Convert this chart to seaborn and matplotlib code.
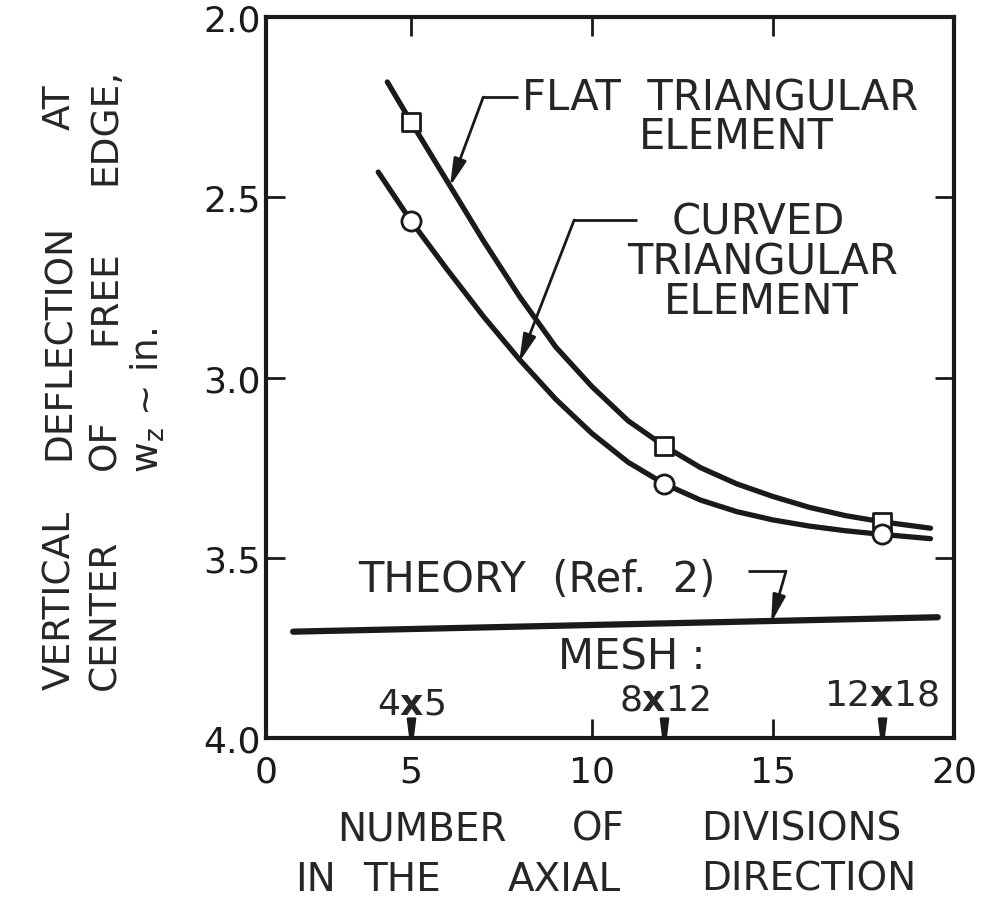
import matplotlib
matplotlib.use("Agg")
import matplotlib.pyplot as plt
import pandas as pd
import seaborn as sns


## DATA
# flat triangular element, sampled along the drawn curve
flat_x = [4.35, 5, 6, 7, 8, 9, 10, 11, 12, 13, 14, 15, 16, 17, 18, 19.35]
flat_y = [2.18, 2.29, 2.455, 2.62, 2.775, 2.915, 3.025, 3.12, 3.19, 3.25, 3.295,
          3.33, 3.36, 3.383, 3.40, 3.418]
# curved triangular element, sampled along the drawn curve
curved_x = [4.1, 5, 6, 7, 8, 9, 10, 11, 12, 13, 14, 15, 16, 17, 18, 19.35]
curved_y = [2.43, 2.565, 2.70, 2.83, 2.95, 3.06, 3.155, 3.235, 3.295, 3.34, 3.372,
            3.395, 3.412, 3.425, 3.435, 3.447]
# computed points (one per mesh)
mesh_n = [5, 12, 18]
mesh_labels = ["4$\\mathbf{x}$5", "8$\\mathbf{x}$12", "12$\\mathbf{x}$18"]
flat_pts = [2.29, 3.19, 3.40]
curved_pts = [2.565, 3.295, 3.435]
# theory line (Ref. 2)
theory_x = [1.75, 19.55]
theory_y = [3.705, 3.665]

x_ticklabels = ["0", "5", "10", "15", "20"]
y_ticks = [2.0, 2.5, 3.0, 3.5, 4.0]

xlabel_words = [["NUMBER", "OF", "DIVISIONS"], ["IN", "THE", "AXIAL", "DIRECTION"]]
ylabel_words = [["VERTICAL", "DEFLECTION", "AT"], ["CENTER", "OF", "FREE", "EDGE,"]]


## STYLE
sns.set_theme(style="ticks")
plt.rcParams["font.family"] = ["DejaVu Sans"]
FS = 26     # tick labels
FS_ANN = 30 # curve labels
XMIN, XMAX = 1.0, 20.0
W, H = 987, 903


def leader(ax, elbow, end, tip):
  # short dash next to the text, then a line ending in a filled head
  ax.plot([elbow[0], end], [elbow[1], elbow[1]], color="k", lw=2, solid_capstyle="butt")
  ax.annotate("", xy=tip, xytext=elbow,
              arrowprops=dict(arrowstyle="-|>,head_length=0.55,head_width=0.13",
                              color="k", lw=2, shrinkA=0, shrinkB=0, mutation_scale=30))


def word_row(fig, words, starts, pos, fs, rotation=0):
  # place the words of a label one by one (the lettering is widely spaced)
  for w, s in zip(words, starts):
    if rotation:
      fig.text(pos / W, 1 - s / H, w, fontsize=fs, rotation=90, ha="center", va="bottom")
    else:
      fig.text(s / W, 1 - pos / H, w, fontsize=fs, ha="left", va="center")


def main():
  fig = plt.figure(figsize=(W / 100, H / 100), dpi=100)
  ax = fig.add_axes([0.2695, 0.1816, 0.6971, 0.7984])

  flat_df = pd.DataFrame({"n": flat_x, "w": flat_y})
  curved_df = pd.DataFrame({"n": curved_x, "w": curved_y})
  theory_df = pd.DataFrame({"n": theory_x, "w": theory_y})

  sns.lineplot(data=flat_df, x="n", y="w", ax=ax, color="k", lw=3.8, errorbar=None, zorder=2)
  sns.lineplot(data=curved_df, x="n", y="w", ax=ax, color="k", lw=3.8, errorbar=None, zorder=2)
  sns.lineplot(data=theory_df, x="n", y="w", ax=ax, color="k", lw=4.5, errorbar=None, zorder=2,
               solid_capstyle="round")
  sns.scatterplot(x=mesh_n, y=flat_pts, ax=ax, marker="s", s=160, color="white",
                  edgecolor="k", linewidth=2, zorder=3)
  sns.scatterplot(x=mesh_n, y=curved_pts, ax=ax, marker="o", s=190, color="white",
                  edgecolor="k", linewidth=2, zorder=3)

  # mesh markers on the axis
  wedge = [(-0.4, 1), (0.4, 1), (0.15, -1), (-0.15, -1), (-0.4, 1)]
  ax.plot(mesh_n, [3.971] * len(mesh_n), ls="none", marker=wedge, ms=15,
          color="k", clip_on=False, zorder=4)
  for n, lab, dy in zip(mesh_n, mesh_labels, [3.905, 3.893, 3.878]):
    ax.text(n, dy, lab, fontsize=FS, ha="center", va="center")
  ax.text(11.1, 3.775, "MESH :", fontsize=FS_ANN, ha="center", va="center")

  # curve labels
  ax.text(8.07, 2.222, "FLAT  TRIANGULAR", fontsize=FS_ANN, ha="left", va="center")
  ax.text(13.98, 2.33, "ELEMENT", fontsize=FS_ANN, ha="center", va="center")
  leader(ax, (7.0, 2.222), 7.95, (6.08, 2.47))

  ax.text(14.59, 2.566, "CURVED", fontsize=FS_ANN, ha="center", va="center")
  ax.text(14.70, 2.677, "TRIANGULAR", fontsize=FS_ANN, ha="center", va="center")
  ax.text(14.67, 2.788, "ELEMENT", fontsize=FS_ANN, ha="center", va="center")
  leader(ax, (9.51, 2.563), 11.25, (7.99, 2.957))

  ax.text(3.54, 3.559, "THEORY  (Ref.  2)", fontsize=FS_ANN, ha="left", va="center")
  leader(ax, (15.36, 3.537), 14.3, (14.95, 3.68))

  # axes
  ax.set_xlim(XMIN, XMAX)
  ax.set_ylim(4.0, 2.0)
  ax.set_xticks([XMIN, 5, 10, 15, 20])
  ax.set_xticklabels(x_ticklabels)
  ax.set_yticks(y_ticks)
  ax.set_yticklabels([f"{v:.1f}" for v in y_ticks])
  ax.tick_params(axis="both", direction="in", length=14, width=2, top=True, right=True,
                 labelsize=FS, color="k", labelcolor="k")
  ax.tick_params(axis="x", pad=12)
  ax.tick_params(axis="y", pad=4)
  for sp in ax.spines.values():
    sp.set_linewidth(3)
    sp.set_color("k")
  ax.set_xlabel("")
  ax.set_ylabel("")

  # axis titles, word by word
  word_row(fig, xlabel_words[0], [337, 572, 701], 830, 28)
  word_row(fig, xlabel_words[1], [295, 363, 508, 701], 880, 28)
  word_row(fig, ylabel_words[0], [690, 460, 130], 60, 27, rotation=90)
  word_row(fig, ylabel_words[1], [690, 470, 345, 185], 105, 27, rotation=90)
  fig.text(148 / W, 1 - 400 / H, "$\\mathregular{w_z}$ ~ in.", fontsize=27, rotation=90,
           ha="center", va="center")

  fig.savefig("out.png", dpi=100)


if __name__ == "__main__":
  main()
